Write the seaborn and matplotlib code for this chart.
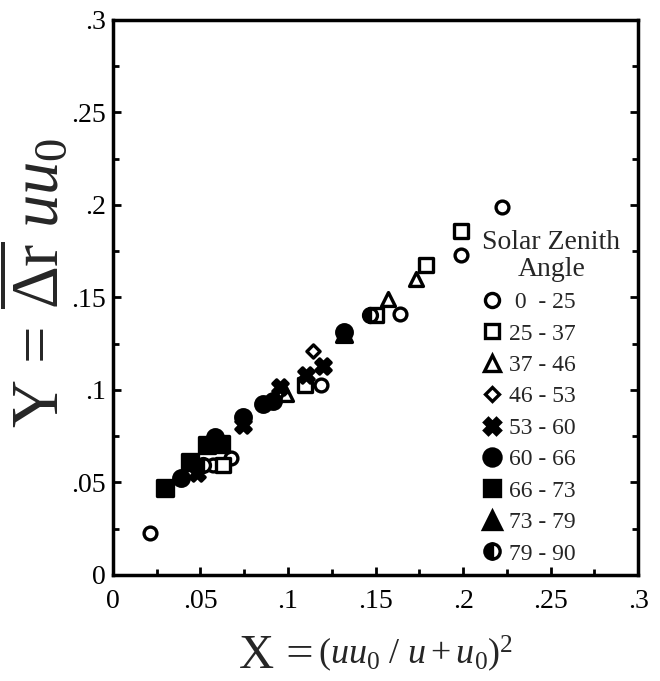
import numpy as np
import pandas as pd
import seaborn as sns
import matplotlib
matplotlib.use('Agg')
import matplotlib.pyplot as plt
from matplotlib.lines import Line2D

sns.set_theme(style='ticks')
plt.rcParams['font.family'] = ['Liberation Serif', 'DejaVu Serif']
plt.rcParams['mathtext.fontset'] = 'custom'
plt.rcParams['mathtext.rm'] = 'Liberation Serif'
plt.rcParams['mathtext.it'] = 'Liberation Serif:italic'

# waarden, per klasse zonnezenithoek
x_0_25 = [0.021, 0.057, 0.0675, 0.119, 0.164, 0.199, 0.222]
y_0_25 = [0.0225, 0.0595, 0.063, 0.1025, 0.141, 0.173, 0.199]
x_25_37 = [0.063, 0.110, 0.150, 0.179, 0.199]
y_25_37 = [0.0595, 0.1025, 0.1405, 0.1675, 0.186]
x_37_46 = [0.099, 0.157, 0.173]
y_37_46 = [0.098, 0.149, 0.160]
x_46_53 = [0.1145]
y_46_53 = [0.121]
x_53_60 = [0.048, 0.0745, 0.0955, 0.1105, 0.120]
y_53_60 = [0.055, 0.081, 0.1015, 0.108, 0.113]
x_60_66 = [0.039, 0.0585, 0.0745, 0.086, 0.0915, 0.132]
y_60_66 = [0.0525, 0.0745, 0.0855, 0.0925, 0.094, 0.1315]
x_66_73 = [0.030, 0.044, 0.0535, 0.062]
y_66_73 = [0.047, 0.061, 0.070, 0.071]
x_73_79 = [0.132]
y_73_79 = [0.130]
x_79_90 = [0.0515, 0.147]
y_79_90 = [0.0595, 0.1405]

labels = [' 0  - 25', '25 - 37', '37 - 46', '46 - 53', '53 - 60',
          '60 - 66', '66 - 73', '73 - 79', '79 - 90']
tick_vals = [0, 0.05, 0.1, 0.15, 0.2, 0.25, 0.3]
tick_labels = ['0', '.05', '.1', '.15', '.2', '.25', '.3']

series = [(x_0_25, y_0_25), (x_25_37, y_25_37), (x_37_46, y_37_46),
          (x_46_53, y_46_53), (x_53_60, y_53_60), (x_60_66, y_60_66),
          (x_66_73, y_66_73), (x_73_79, y_73_79)]
# marker, vulkleur, grootte
stijlen = [('o', 'white', 85), ('s', 'white', 90), ('^', 'white', 100),
           ('D', 'white', 45), ('X', 'black', 120), ('o', 'black', 125),
           ('s', 'black', 120), ('^', 'black', 130)]

fig = plt.figure(figsize=(6.6, 6.81), dpi=100)
ax = fig.add_axes([0.171, 0.1557, 0.796, 0.815])

for (xs, ys), (m, fc, s) in zip(series, stijlen):
    df = pd.DataFrame({'x': xs, 'y': ys})
    sns.scatterplot(data=df, x='x', y='y', marker=m, s=s, color=fc,
                    edgecolor='black', linewidth=2.4, ax=ax, legend=False, zorder=3)

# half gevulde cirkels
ax.plot(x_79_90, y_79_90, linestyle='none', marker='o', markersize=10,
        fillstyle='left', markerfacecolor='black', markerfacecoloralt='white',
        markeredgecolor='black', markeredgewidth=2.4, zorder=3)

ax.set_xlim(0, 0.3)
ax.set_ylim(0, 0.3)
ax.set_xticks(tick_vals)
ax.set_xticklabels(tick_labels)
ax.set_yticks(tick_vals)
ax.set_yticklabels(tick_labels)
ax.set_xticks(np.arange(0.025, 0.3, 0.05), minor=True)
ax.set_yticks(np.arange(0.025, 0.3, 0.05), minor=True)
ax.tick_params(which='both', direction='in', left=True, right=True, bottom=True,
               top=False, width=2, labelsize=20, colors='black')
ax.tick_params(axis='x', which='major', pad=10)
ax.tick_params(axis='y', which='major', pad=5)
ax.tick_params(which='major', length=6)
ax.tick_params(which='minor', length=4)
for sp in ax.spines.values():
    sp.set_linewidth(2.5)
    sp.set_color('black')
ax.set_xlabel('')
ax.set_ylabel('')

# aslabels: grote X en Y, rest kleiner
t1 = fig.text(0.362, 0.004, 'X =', fontsize=35, ha='left', va='bottom')
ax.annotate(r'$(\mathit{uu}_0\ /\ \mathit{u} + \mathit{u}_0)^2$', xy=(1, 0), xycoords=t1,
            xytext=(3, 3), textcoords='offset points', fontsize=26, ha='left', va='bottom')
fig.text(0.055, 0.585, r'Y = $\overline{\Delta\mathrm{r}}\ \mathit{uu}_0$', fontsize=48,
         rotation=90, ha='center', va='center')

handles = []
for m, fc, s in stijlen:
    handles.append(Line2D([], [], linestyle='none', marker=m, markersize=np.sqrt(s) * 1.1,
                          markerfacecolor=fc, markeredgecolor='black', markeredgewidth=2.4))
handles.append(Line2D([], [], linestyle='none', marker='o', markersize=11, fillstyle='left',
                      markerfacecolor='black', markerfacecoloralt='white',
                      markeredgecolor='black', markeredgewidth=2.4))
leg = ax.legend(handles, labels, title='Solar Zenith\nAngle', loc='upper left',
                bbox_to_anchor=(0.703, 0.622), frameon=False, fontsize=17, title_fontsize=20,
                handlelength=0.8, handletextpad=0.35, labelspacing=0.42, borderpad=0,
                borderaxespad=0, alignment='left')
leg.get_title().set_multialignment('center')
leg.get_title().set_linespacing(1.1)

fig.savefig('out.png', dpi=100)
